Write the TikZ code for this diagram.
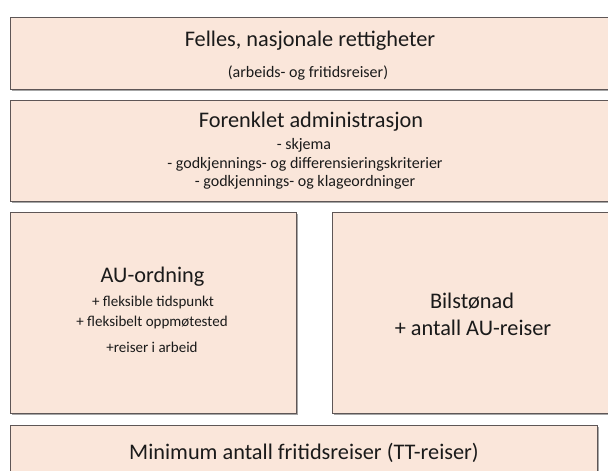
\documentclass[tikz,border=0pt]{standalone}
\usepackage{fontspec}
\setmainfont{Carlito}
\usetikzlibrary{shadows}
\definecolor{peach}{HTML}{FAE6DA}
\definecolor{edge}{HTML}{5E5656}
\definecolor{ink}{HTML}{1A1A1A}
\begin{document}
\begin{tikzpicture}[x=1pt,y=-1pt,
  box/.style={draw=edge,line width=0.9pt,fill=peach,rectangle,inner sep=0pt,anchor=north west,
    drop shadow={shadow xshift=1.6pt,shadow yshift=-1.6pt,fill=black!35,opacity=1}},
  big/.style={anchor=base,inner sep=0pt,text=ink,font=\fontsize{22.3}{26}\selectfont},
  small/.style={anchor=base,inner sep=0pt,text=ink,font=\fontsize{16}{19}\selectfont},
  smaller/.style={anchor=base,inner sep=0pt,text=ink,font=\fontsize{15}{18}\selectfont}]
\useasboundingbox (0,0) rectangle (608,471);
\fill[white] (0,0) rectangle (608,471);
\node[box,minimum width=600,minimum height=72] (b1) at (10,17) {};
\node[box,minimum width=600,minimum height=101] (b2) at (10,100) {};
\node[box,minimum width=286,minimum height=201] (b3) at (10,212) {};
\node[box,minimum width=286,minimum height=201] (b4) at (332,212) {};
\node[box,minimum width=587,minimum height=60] (b5) at (10,425) {};
\node[big] (t1) at (310,46) {Felles, nasjonale rettigheter};
\node[small] (t1a) at (308,77) {(arbeids- og fritidsreiser)};
\node[big] (t2) at (311,127.5) {Forenklet administrasjon};
\node[small] (t2a) at (304,149) {- skjema};
\node[small] (t2b) at (305,168) {- godkjennings- og differensieringskriterier};
\node[small] (t2c) at (305,186) {- godkjennings- og klageordninger};
\node[big] (t3) at (152.5,282) {AU-ordning};
\node[smaller] (t3a) at (153,306) {+ fleksible tidspunkt};
\node[smaller] (t3b) at (152,326) {+ fleksibelt oppmøtested};
\node[smaller] (t3c) at (152,352) {+reiser i arbeid};
\node[big] (t4) at (472,308) {Bilstønad};
\node[big] (t4a) at (473,335) {+ antall AU-reiser};
\node[big] (t5) at (304,459) {Minimum antall fritidsreiser (TT-reiser)};
\end{tikzpicture}
\end{document}
